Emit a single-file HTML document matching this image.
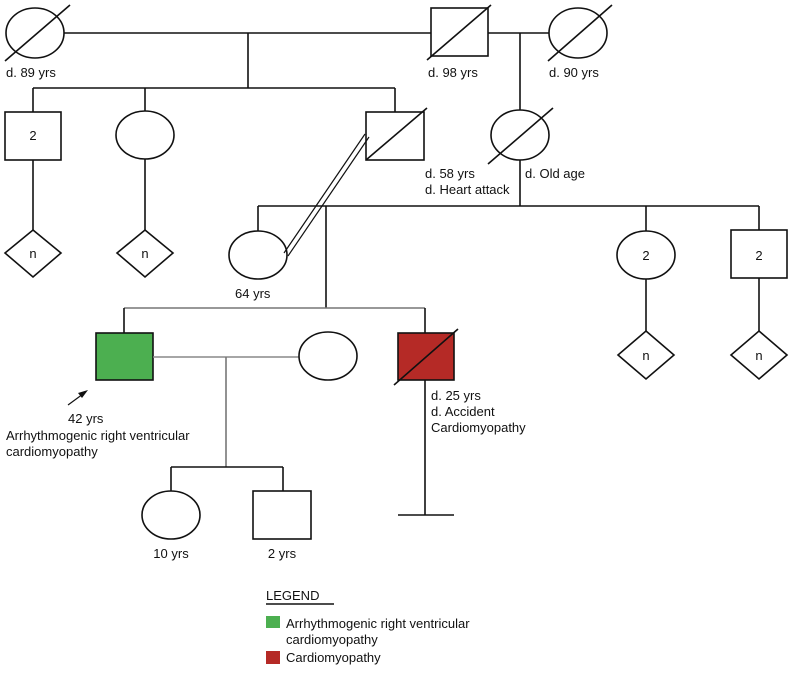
<!DOCTYPE html>
<html><head><meta charset="utf-8"><style>
html,body{margin:0;padding:0;background:#fff;overflow:hidden;}
svg{display:block;}
text{font-family:"Liberation Sans",sans-serif;font-size:13px;fill:#111;}
</style></head><body>
<svg width="790" height="673" viewBox="0 0 790 673" xmlns="http://www.w3.org/2000/svg">
<g stroke="#111" stroke-width="1.6" fill="#fff">
<line x1="64" y1="33" x2="431" y2="33"/>
<line x1="488" y1="33" x2="549" y2="33"/>
<line x1="248" y1="33" x2="248" y2="88"/>
<line x1="33" y1="88" x2="395" y2="88"/>
<line x1="33" y1="88" x2="33" y2="112"/>
<line x1="145" y1="88" x2="145" y2="111"/>
<line x1="395" y1="88" x2="395" y2="112"/>
<ellipse cx="35" cy="33" rx="29" ry="25"/>
<line x1="5" y1="61" x2="70" y2="5"/>
<rect x="431" y="8" width="57" height="48"/>
<line x1="427" y1="60" x2="491" y2="5"/>
<ellipse cx="578" cy="33" rx="29" ry="25"/>
<line x1="548" y1="61" x2="612" y2="5"/>
<line x1="520" y1="33" x2="520" y2="110"/>
<rect x="5" y="112" width="56" height="48"/>
<ellipse cx="145" cy="135" rx="29" ry="24"/>
<rect x="366" y="112" width="58" height="48"/>
<line x1="366" y1="160" x2="427" y2="108"/>
<ellipse cx="520" cy="135" rx="29" ry="25"/>
<line x1="488" y1="164" x2="553" y2="108"/>
<line x1="33" y1="160" x2="33" y2="230"/>
<line x1="145" y1="159" x2="145" y2="230"/>
<polygon points="33,230 61,253 33,277 5,253"/>
<polygon points="145,230 173,253 145,277 117,253"/>
<line x1="520" y1="160" x2="520" y2="206"/>
<line x1="258" y1="206" x2="759" y2="206"/>
<line x1="258" y1="206" x2="258" y2="231"/>
<line x1="646" y1="206" x2="646" y2="231"/>
<line x1="759" y1="206" x2="759" y2="230"/>
<ellipse cx="258" cy="255" rx="29" ry="24"/>
<ellipse cx="646" cy="255" rx="29" ry="24"/>
<rect x="731" y="230" width="56" height="48"/>
<line x1="646" y1="279" x2="646" y2="331"/>
<line x1="759" y1="278" x2="759" y2="331"/>
<polygon points="646,331 674,355 646,379 618,355"/>
<polygon points="759,331 787,355 759,379 731,355"/>
<line x1="365" y1="134" x2="284" y2="253" stroke-width="1.2"/>
<line x1="369" y1="137" x2="288" y2="256" stroke-width="1.2"/>
<line x1="326" y1="206" x2="326" y2="308"/>
<line x1="124" y1="308" x2="425" y2="308" stroke="#777"/>
<line x1="124" y1="308" x2="124" y2="333"/>
<line x1="425" y1="308" x2="425" y2="333"/>
<rect x="96" y="333" width="57" height="47" fill="#4caf50"/>
<rect x="398" y="333" width="56" height="47" fill="#b52a26"/>
<line x1="394" y1="385" x2="458" y2="329"/>
<line x1="153" y1="357" x2="299" y2="357" stroke="#888"/>
<ellipse cx="328" cy="356" rx="29" ry="24"/>
<line x1="226" y1="357" x2="226" y2="467" stroke="#777"/>
<line x1="171" y1="467" x2="283" y2="467"/>
<line x1="171" y1="467" x2="171" y2="491"/>
<line x1="283" y1="467" x2="283" y2="491"/>
<ellipse cx="171" cy="515" rx="29" ry="24"/>
<rect x="253" y="491" width="58" height="48"/>
<line x1="425" y1="380" x2="425" y2="515"/>
<line x1="398" y1="515" x2="454" y2="515"/>
<line x1="68" y1="405" x2="83" y2="394" stroke-width="1.2"/>
</g>
<polygon points="88,390 78,393 82,398" fill="#111"/>
<g>
<text x="6" y="77">d. 89 yrs</text>
<text x="428" y="77">d. 98 yrs</text>
<text x="549" y="77">d. 90 yrs</text>
<text x="33" y="140" text-anchor="middle">2</text>
<text x="425" y="178">d. 58 yrs</text>
<text x="425" y="194">d. Heart attack</text>
<text x="525" y="178">d. Old age</text>
<text x="33" y="258" text-anchor="middle">n</text>
<text x="145" y="258" text-anchor="middle">n</text>
<text x="646" y="260" text-anchor="middle">2</text>
<text x="759" y="260" text-anchor="middle">2</text>
<text x="646" y="360" text-anchor="middle">n</text>
<text x="759" y="360" text-anchor="middle">n</text>
<text x="235" y="298">64 yrs</text>
<text x="68" y="423">42 yrs</text>
<text x="6" y="440">Arrhythmogenic right ventricular</text>
<text x="6" y="456">cardiomyopathy</text>
<text x="431" y="400">d. 25 yrs</text>
<text x="431" y="416">d. Accident</text>
<text x="431" y="432">Cardiomyopathy</text>
<text x="171" y="558" text-anchor="middle">10 yrs</text>
<text x="282" y="558" text-anchor="middle">2 yrs</text>
<text x="266" y="600">LEGEND</text>
<line x1="266" y1="604" x2="334" y2="604" stroke="#111" stroke-width="1.4"/>
<rect x="266" y="616" width="14" height="12" fill="#4caf50"/>
<text x="286" y="628">Arrhythmogenic right ventricular</text>
<text x="286" y="644">cardiomyopathy</text>
<rect x="266" y="651" width="14" height="13" fill="#b52a26"/>
<text x="286" y="662">Cardiomyopathy</text>
</g>
</svg>
</body></html>
